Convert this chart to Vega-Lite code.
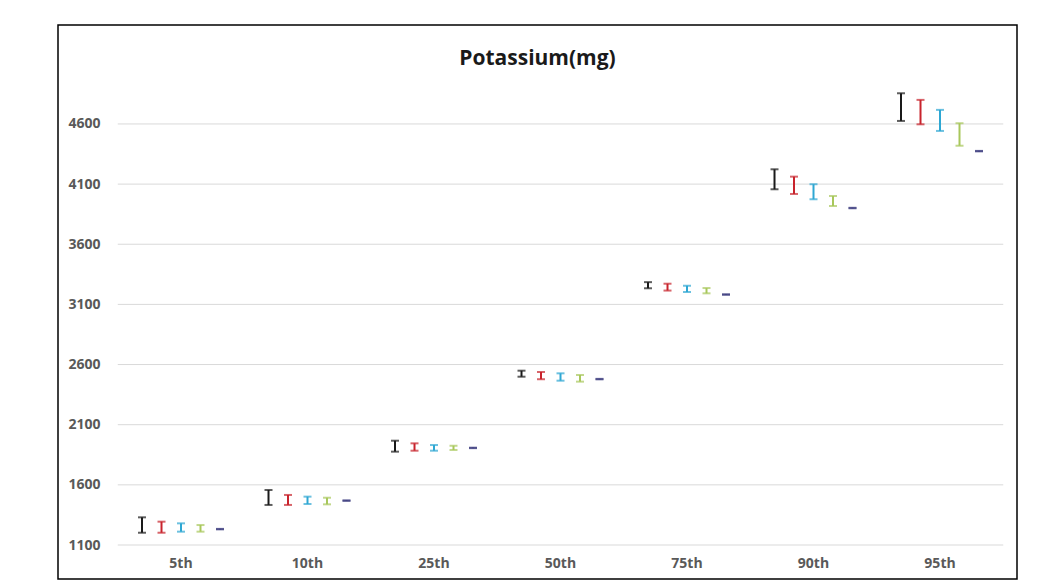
{
  "$schema": "https://vega.github.io/schema/vega-lite/v6.json",
  "width": 959,
  "height": 554,
  "autosize": {"type": "none"},
  "padding": {"left": 58, "top": 25, "right": 28, "bottom": 2},
  "background": "white",
  "config": {"view": {"stroke": "#000000", "strokeWidth": 1.5}, "font": "Open Sans"},
  "title": {"text": "Potassium(mg)", "fontSize": 21, "fontWeight": "bold", "color": "#1a1a1a", "font": "Open Sans", "anchor": "middle", "offset": -44},
  "datasets": {
    "grid": [
      {"value": 1100, "start": "5th", "end": "95th"},
      {"value": 1600, "start": "5th", "end": "95th"},
      {"value": 2100, "start": "5th", "end": "95th"},
      {"value": 2600, "start": "5th", "end": "95th"},
      {"value": 3100, "start": "5th", "end": "95th"},
      {"value": 3600, "start": "5th", "end": "95th"},
      {"value": 4100, "start": "5th", "end": "95th"},
      {"value": 4600, "start": "5th", "end": "95th"}
    ],
    "bars": [
      {"pct": "5th", "series": "Series 1", "low": 1202, "high": 1330},
      {"pct": "5th", "series": "Series 2", "low": 1202, "high": 1294},
      {"pct": "5th", "series": "Series 3", "low": 1211, "high": 1280},
      {"pct": "5th", "series": "Series 4", "low": 1211, "high": 1266},
      {"pct": "5th", "series": "Series 5", "low": 1230, "high": 1234},
      {"pct": "10th", "series": "Series 1", "low": 1433, "high": 1557},
      {"pct": "10th", "series": "Series 2", "low": 1433, "high": 1516},
      {"pct": "10th", "series": "Series 3", "low": 1441, "high": 1502},
      {"pct": "10th", "series": "Series 4", "low": 1438, "high": 1493},
      {"pct": "10th", "series": "Series 5", "low": 1467, "high": 1471},
      {"pct": "25th", "series": "Series 1", "low": 1876, "high": 1967},
      {"pct": "25th", "series": "Series 2", "low": 1884, "high": 1945},
      {"pct": "25th", "series": "Series 3", "low": 1884, "high": 1931},
      {"pct": "25th", "series": "Series 4", "low": 1890, "high": 1925},
      {"pct": "25th", "series": "Series 5", "low": 1905, "high": 1909},
      {"pct": "50th", "series": "Series 1", "low": 2499, "high": 2549},
      {"pct": "50th", "series": "Series 2", "low": 2478, "high": 2538},
      {"pct": "50th", "series": "Series 3", "low": 2466, "high": 2527},
      {"pct": "50th", "series": "Series 4", "low": 2458, "high": 2513},
      {"pct": "50th", "series": "Series 5", "low": 2477, "high": 2481},
      {"pct": "75th", "series": "Series 1", "low": 3234, "high": 3285},
      {"pct": "75th", "series": "Series 2", "low": 3215, "high": 3272},
      {"pct": "75th", "series": "Series 3", "low": 3203, "high": 3255},
      {"pct": "75th", "series": "Series 4", "low": 3192, "high": 3236},
      {"pct": "75th", "series": "Series 5", "low": 3180, "high": 3184},
      {"pct": "90th", "series": "Series 1", "low": 4057, "high": 4223},
      {"pct": "90th", "series": "Series 2", "low": 4018, "high": 4162},
      {"pct": "90th", "series": "Series 3", "low": 3974, "high": 4099},
      {"pct": "90th", "series": "Series 4", "low": 3918, "high": 4001},
      {"pct": "90th", "series": "Series 5", "low": 3899, "high": 3903},
      {"pct": "95th", "series": "Series 1", "low": 4625, "high": 4855},
      {"pct": "95th", "series": "Series 2", "low": 4597, "high": 4800},
      {"pct": "95th", "series": "Series 3", "low": 4542, "high": 4717},
      {"pct": "95th", "series": "Series 4", "low": 4419, "high": 4606},
      {"pct": "95th", "series": "Series 5", "low": 4372, "high": 4376}
    ]
  },
  "layer": [
    {
      "data": {"name": "grid"},
      "mark": {"type": "rule", "color": "#d9d9d9", "strokeWidth": 1},
      "encoding": {
        "y": {
          "field": "value", "type": "quantitative",
          "scale": {"domain": [817.4, 5422.5], "nice": false, "zero": false},
          "axis": {"title": null, "values": [1100, 1600, 2100, 2600, 3100, 3600, 4100, 4600], "format": "d", "domain": false, "ticks": false, "grid": false, "offset": -42, "labelPadding": 0, "labelFontSize": 14, "labelFontWeight": "bold", "labelColor": "#595959", "labelFont": "Open Sans"}
        },
        "x": {
          "field": "start", "type": "nominal", "bandPosition": 0,
          "scale": {"domain": ["5th", "10th", "25th", "50th", "75th", "90th", "95th"], "paddingInner": 0, "paddingOuter": 0.2905, "align": 0.813},
          "axis": {"title": null, "orient": "bottom", "offset": -23, "domain": false, "ticks": false, "grid": false, "labelPadding": 0, "labelAngle": 0, "labelBaseline": "top", "labelFontSize": 14, "labelFontWeight": "bold", "labelColor": "#595959", "labelFont": "Open Sans"}
        },
        "x2": {"field": "end", "bandPosition": 1}
      }
    },
    {
      "data": {"name": "bars"},
      "encoding": {
        "x": {"field": "pct", "type": "nominal", "sort": ["5th", "10th", "25th", "50th", "75th", "90th", "95th"]},
        "xOffset": {"field": "series", "type": "nominal", "scale": {"paddingInner": 0, "paddingOuter": 0.744}},
        "color": {"field": "series", "type": "nominal", "legend": null,
          "scale": {"domain": ["Series 1", "Series 2", "Series 3", "Series 4", "Series 5"], "range": ["#1a1a1a", "#c8232c", "#2ea7d3", "#a8c75b", "#3b3b7d"]}}
      },
      "layer": [
        {"mark": {"type": "rule", "strokeWidth": 2}, "encoding": {"y": {"field": "low", "type": "quantitative"}, "y2": {"field": "high"}}},
        {"mark": {"type": "tick", "size": 8, "thickness": 2}, "encoding": {"y": {"field": "low", "type": "quantitative"}}},
        {"mark": {"type": "tick", "size": 8, "thickness": 2}, "encoding": {"y": {"field": "high", "type": "quantitative"}}}
      ]
    }
  ]
}
